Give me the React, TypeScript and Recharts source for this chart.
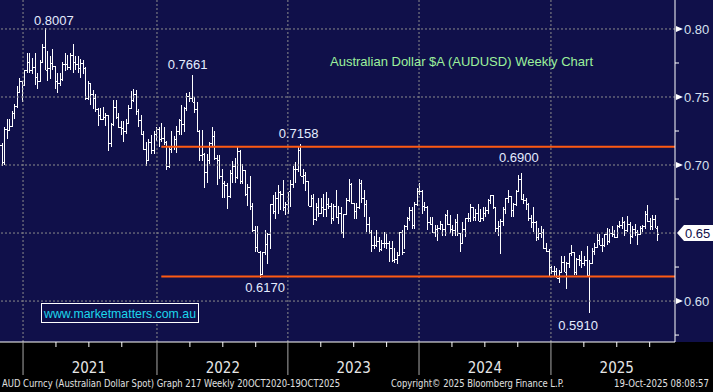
import React from "react";
import { ComposedChart, Bar, XAxis, YAxis, ReferenceLine, ReferenceDot } from "recharts";

// AUD Curncy weekly bars. week 0 = w/e 23 Oct 2020 ... week 260 = w/e 17 Oct 2025
const opens = [
  0.7080, 0.7145, 0.7025, 0.7265, 0.7255, 0.7290, 0.7385, 0.7435, 0.7540, 0.7620,
  0.7590, 0.7695, 0.7760, 0.7700, 0.7720, 0.7650, 0.7620, 0.7760, 0.7870, 0.7700,
  0.7710, 0.7750, 0.7730, 0.7620, 0.7600, 0.7630, 0.7740, 0.7740, 0.7720, 0.7810,
  0.7760, 0.7740, 0.7710, 0.7750, 0.7710, 0.7490, 0.7600, 0.7520, 0.7490, 0.7410,
  0.7370, 0.7340, 0.7350, 0.7370, 0.7160, 0.7300, 0.7430, 0.7350, 0.7280, 0.7270,
  0.7250, 0.7310, 0.7420, 0.7480, 0.7520, 0.7400, 0.7330, 0.7230, 0.7120, 0.7040,
  0.7170, 0.7110, 0.7230, 0.7265, 0.7190, 0.7200, 0.7170, 0.6990, 0.7120, 0.7140,
  0.7190, 0.7250, 0.7330, 0.7300, 0.7420, 0.7510, 0.7490, 0.7460, 0.7410, 0.7250,
  0.7070, 0.7080, 0.6950, 0.7040, 0.7160, 0.7210, 0.7050, 0.7040, 0.6920, 0.6870,
  0.6850, 0.6770, 0.6940, 0.6990, 0.6910, 0.7100, 0.6880, 0.6960, 0.6790, 0.6840,
  0.6700, 0.6520, 0.6400, 0.6360, 0.6200, 0.6360, 0.6420, 0.6490, 0.6710, 0.6660,
  0.6760, 0.6800, 0.6790, 0.6690, 0.6710, 0.6810, 0.6860, 0.6970, 0.6970, 0.7110,
  0.6920, 0.6930, 0.6880, 0.6700, 0.6760, 0.6600, 0.6690, 0.6650, 0.6690, 0.6680,
  0.6710, 0.6700, 0.6610, 0.6700, 0.6620, 0.6650, 0.6510, 0.6640, 0.6740, 0.6860,
  0.6720, 0.6660, 0.6690, 0.6870, 0.6760, 0.6710, 0.6570, 0.6510, 0.6410, 0.6410,
  0.6440, 0.6380, 0.6430, 0.6430, 0.6430, 0.6390, 0.6300, 0.6310, 0.6340, 0.6510,
  0.6360, 0.6550, 0.6610, 0.6670, 0.6560, 0.6710, 0.6810, 0.6810, 0.6700, 0.6690,
  0.6580, 0.6570, 0.6510, 0.6530, 0.6540, 0.6570, 0.6530, 0.6630, 0.6570, 0.6530,
  0.6520, 0.6580, 0.6500, 0.6430, 0.6530, 0.6610, 0.6610, 0.6690, 0.6620, 0.6650,
  0.6590, 0.6610, 0.6650, 0.6670, 0.6740, 0.6780, 0.6690, 0.6540, 0.6550, 0.6590,
  0.6680, 0.6760, 0.6770, 0.6670, 0.6710, 0.6810, 0.6900, 0.6750, 0.6740, 0.6710,
  0.6610, 0.6580, 0.6580, 0.6470, 0.6500, 0.6510, 0.6390, 0.6370, 0.6250, 0.6220,
  0.6220, 0.6170, 0.6210, 0.6290, 0.6210, 0.6280, 0.6350, 0.6360, 0.6210, 0.6310,
  0.6300, 0.6280, 0.6300, 0.6190, 0.6280, 0.6370, 0.6400, 0.6450, 0.6410, 0.6410,
  0.6490, 0.6440, 0.6500, 0.6490, 0.6470, 0.6550, 0.6560, 0.6580, 0.6520, 0.6570,
  0.6480, 0.6530, 0.6510, 0.6490, 0.6540, 0.6550, 0.6640, 0.6590, 0.6550, 0.6600,
  0.6540,
];

const highs = [
  0.7160, 0.7160, 0.7280, 0.7340, 0.7340, 0.7400, 0.7450, 0.7580, 0.7640, 0.7620,
  0.7700, 0.7820, 0.7820, 0.7790, 0.7820, 0.7680, 0.7770, 0.7890, 0.8007, 0.7840,
  0.7800, 0.7850, 0.7730, 0.7680, 0.7680, 0.7760, 0.7820, 0.7810, 0.7820, 0.7891,
  0.7800, 0.7800, 0.7780, 0.7770, 0.7720, 0.7620, 0.7600, 0.7550, 0.7520, 0.7420,
  0.7420, 0.7430, 0.7380, 0.7360, 0.7310, 0.7478, 0.7480, 0.7380, 0.7320, 0.7320,
  0.7340, 0.7440, 0.7546, 0.7556, 0.7550, 0.7410, 0.7370, 0.7250, 0.7170, 0.7190,
  0.7220, 0.7250, 0.7280, 0.7280, 0.7310, 0.7280, 0.7180, 0.7140, 0.7250, 0.7210,
  0.7290, 0.7340, 0.7440, 0.7430, 0.7530, 0.7540, 0.7661, 0.7500, 0.7460, 0.7260,
  0.7260, 0.7090, 0.7080, 0.7170, 0.7283, 0.7250, 0.7070, 0.7070, 0.6970, 0.6880,
  0.6870, 0.6960, 0.7030, 0.7050, 0.7136, 0.7110, 0.7010, 0.6960, 0.6860, 0.6920,
  0.6720, 0.6550, 0.6550, 0.6370, 0.6360, 0.6520, 0.6500, 0.6710, 0.6780, 0.6800,
  0.6850, 0.6810, 0.6890, 0.6730, 0.6800, 0.6890, 0.6990, 0.7020, 0.7140, 0.7158,
  0.6970, 0.6950, 0.6880, 0.6780, 0.6790, 0.6720, 0.6760, 0.6760, 0.6790, 0.6800,
  0.6760, 0.6720, 0.6710, 0.6818, 0.6700, 0.6690, 0.6640, 0.6760, 0.6900, 0.6870,
  0.6720, 0.6720, 0.6895, 0.6890, 0.6820, 0.6740, 0.6620, 0.6520, 0.6480, 0.6520,
  0.6470, 0.6450, 0.6510, 0.6490, 0.6440, 0.6440, 0.6390, 0.6360, 0.6510, 0.6520,
  0.6560, 0.6620, 0.6690, 0.6690, 0.6730, 0.6830, 0.6871, 0.6820, 0.6730, 0.6700,
  0.6620, 0.6620, 0.6560, 0.6560, 0.6590, 0.6570, 0.6640, 0.6670, 0.6630, 0.6560,
  0.6600, 0.6640, 0.6500, 0.6580, 0.6610, 0.6650, 0.6714, 0.6690, 0.6680, 0.6710,
  0.6680, 0.6690, 0.6690, 0.6750, 0.6780, 0.6770, 0.6690, 0.6590, 0.6600, 0.6690,
  0.6760, 0.6820, 0.6770, 0.6720, 0.6820, 0.6930, 0.6942, 0.6790, 0.6760, 0.6720,
  0.6630, 0.6690, 0.6590, 0.6540, 0.6550, 0.6530, 0.6430, 0.6380, 0.6260, 0.6260,
  0.6240, 0.6230, 0.6330, 0.6330, 0.6290, 0.6350, 0.6410, 0.6360, 0.6320, 0.6340,
  0.6370, 0.6330, 0.6408, 0.6300, 0.6390, 0.6430, 0.6490, 0.6490, 0.6460, 0.6490,
  0.6540, 0.6530, 0.6550, 0.6520, 0.6560, 0.6590, 0.6620, 0.6590, 0.6625, 0.6580,
  0.6550, 0.6570, 0.6520, 0.6550, 0.6560, 0.6660, 0.6707, 0.6610, 0.6630, 0.6630,
  0.6550,
];

const lows = [
  0.7060, 0.6991, 0.7000, 0.7190, 0.7250, 0.7280, 0.7340, 0.7420, 0.7530, 0.7460,
  0.7580, 0.7680, 0.7680, 0.7670, 0.7590, 0.7560, 0.7620, 0.7750, 0.7700, 0.7620,
  0.7630, 0.7700, 0.7560, 0.7530, 0.7580, 0.7620, 0.7690, 0.7700, 0.7700, 0.7680,
  0.7700, 0.7680, 0.7640, 0.7670, 0.7480, 0.7480, 0.7440, 0.7410, 0.7390, 0.7290,
  0.7330, 0.7340, 0.7290, 0.7106, 0.7130, 0.7290, 0.7340, 0.7270, 0.7220, 0.7170,
  0.7230, 0.7300, 0.7410, 0.7460, 0.7370, 0.7280, 0.7220, 0.7110, 0.6993, 0.7040,
  0.7080, 0.7080, 0.7180, 0.7130, 0.7170, 0.7150, 0.6967, 0.6980, 0.7090, 0.7110,
  0.7090, 0.7220, 0.7220, 0.7240, 0.7400, 0.7460, 0.7460, 0.7380, 0.7240, 0.7030,
  0.7030, 0.6829, 0.6870, 0.7010, 0.7130, 0.7040, 0.6850, 0.6900, 0.6760, 0.6760,
  0.6680, 0.6760, 0.6870, 0.6870, 0.6900, 0.6860, 0.6860, 0.6770, 0.6700, 0.6670,
  0.6510, 0.6360, 0.6360, 0.6170, 0.6190, 0.6340, 0.6270, 0.6380, 0.6640, 0.6600,
  0.6640, 0.6670, 0.6660, 0.6630, 0.6640, 0.6690, 0.6830, 0.6870, 0.6950, 0.6920,
  0.6860, 0.6810, 0.6700, 0.6700, 0.6560, 0.6590, 0.6620, 0.6640, 0.6620, 0.6620,
  0.6680, 0.6570, 0.6590, 0.6610, 0.6570, 0.6490, 0.6460, 0.6630, 0.6730, 0.6710,
  0.6600, 0.6600, 0.6680, 0.6720, 0.6620, 0.6510, 0.6490, 0.6360, 0.6380, 0.6400,
  0.6360, 0.6370, 0.6390, 0.6380, 0.6290, 0.6290, 0.6280, 0.6270, 0.6330, 0.6340,
  0.6380, 0.6520, 0.6590, 0.6530, 0.6530, 0.6700, 0.6780, 0.6640, 0.6660, 0.6520,
  0.6560, 0.6500, 0.6470, 0.6440, 0.6520, 0.6480, 0.6480, 0.6560, 0.6500, 0.6480,
  0.6480, 0.6480, 0.6362, 0.6430, 0.6470, 0.6580, 0.6580, 0.6590, 0.6590, 0.6590,
  0.6580, 0.6590, 0.6620, 0.6640, 0.6710, 0.6680, 0.6510, 0.6480, 0.6348, 0.6550,
  0.6640, 0.6720, 0.6620, 0.6620, 0.6700, 0.6800, 0.6740, 0.6710, 0.6670, 0.6590,
  0.6540, 0.6510, 0.6440, 0.6450, 0.6460, 0.6380, 0.6360, 0.6180, 0.6200, 0.6180,
  0.6170, 0.6131, 0.6210, 0.6210, 0.6088, 0.6240, 0.6330, 0.6190, 0.6190, 0.6260,
  0.6240, 0.6260, 0.6180, 0.5914, 0.6280, 0.6340, 0.6390, 0.6410, 0.6360, 0.6400,
  0.6410, 0.6430, 0.6470, 0.6460, 0.6470, 0.6540, 0.6530, 0.6480, 0.6510, 0.6420,
  0.6460, 0.6480, 0.6410, 0.6490, 0.6510, 0.6530, 0.6580, 0.6520, 0.6520, 0.6540,
  0.6440,
];

const closes = [
  0.7145, 0.7025, 0.7265, 0.7255, 0.7290, 0.7385, 0.7435, 0.7540, 0.7620, 0.7590,
  0.7695, 0.7760, 0.7700, 0.7720, 0.7650, 0.7620, 0.7760, 0.7870, 0.7700, 0.7710,
  0.7750, 0.7730, 0.7620, 0.7600, 0.7630, 0.7740, 0.7740, 0.7720, 0.7810, 0.7760,
  0.7740, 0.7710, 0.7750, 0.7710, 0.7490, 0.7600, 0.7520, 0.7490, 0.7410, 0.7370,
  0.7340, 0.7350, 0.7370, 0.7160, 0.7300, 0.7430, 0.7350, 0.7280, 0.7270, 0.7250,
  0.7310, 0.7420, 0.7480, 0.7520, 0.7400, 0.7330, 0.7230, 0.7120, 0.7040, 0.7170,
  0.7110, 0.7230, 0.7265, 0.7190, 0.7200, 0.7170, 0.6990, 0.7120, 0.7140, 0.7190,
  0.7250, 0.7330, 0.7300, 0.7420, 0.7510, 0.7490, 0.7460, 0.7410, 0.7250, 0.7070,
  0.7080, 0.6950, 0.7040, 0.7160, 0.7210, 0.7050, 0.7040, 0.6920, 0.6870, 0.6850,
  0.6770, 0.6940, 0.6990, 0.6910, 0.7100, 0.6880, 0.6960, 0.6790, 0.6840, 0.6700,
  0.6520, 0.6400, 0.6360, 0.6200, 0.6360, 0.6420, 0.6490, 0.6710, 0.6660, 0.6760,
  0.6800, 0.6790, 0.6690, 0.6710, 0.6810, 0.6860, 0.6970, 0.6970, 0.7110, 0.6920,
  0.6930, 0.6880, 0.6700, 0.6760, 0.6600, 0.6690, 0.6650, 0.6690, 0.6680, 0.6710,
  0.6700, 0.6610, 0.6700, 0.6620, 0.6650, 0.6510, 0.6640, 0.6740, 0.6860, 0.6720,
  0.6660, 0.6690, 0.6870, 0.6760, 0.6710, 0.6570, 0.6510, 0.6410, 0.6410, 0.6440,
  0.6380, 0.6430, 0.6430, 0.6430, 0.6390, 0.6300, 0.6310, 0.6340, 0.6510, 0.6360,
  0.6550, 0.6610, 0.6670, 0.6560, 0.6710, 0.6810, 0.6810, 0.6700, 0.6690, 0.6580,
  0.6570, 0.6510, 0.6530, 0.6540, 0.6570, 0.6530, 0.6630, 0.6570, 0.6530, 0.6520,
  0.6580, 0.6500, 0.6430, 0.6530, 0.6610, 0.6610, 0.6690, 0.6620, 0.6650, 0.6590,
  0.6610, 0.6650, 0.6670, 0.6740, 0.6780, 0.6690, 0.6540, 0.6550, 0.6590, 0.6680,
  0.6760, 0.6770, 0.6670, 0.6710, 0.6810, 0.6900, 0.6750, 0.6740, 0.6710, 0.6610,
  0.6580, 0.6580, 0.6470, 0.6500, 0.6510, 0.6390, 0.6370, 0.6250, 0.6220, 0.6220,
  0.6170, 0.6210, 0.6290, 0.6210, 0.6280, 0.6350, 0.6360, 0.6210, 0.6310, 0.6300,
  0.6280, 0.6300, 0.6190, 0.6280, 0.6370, 0.6400, 0.6450, 0.6410, 0.6410, 0.6490,
  0.6440, 0.6500, 0.6490, 0.6470, 0.6550, 0.6560, 0.6580, 0.6520, 0.6570, 0.6480,
  0.6530, 0.6510, 0.6490, 0.6540, 0.6550, 0.6640, 0.6590, 0.6550, 0.6600, 0.6540,
  0.6490,
];

// time axis, in week numbers
const yearStarts = [9.4, 62.3, 114.0, 165.8, 217.9];
const yearLabels = ["2021", "2022", "2023", "2024", "2025"];
const yearLabelTicks = [35.4, 88.3, 140.0, 191.8, 243.9];
const quarterTicks = [
  22.4, 35.4, 48.4, 75.3, 88.3, 101.3, 127.0, 140.0, 153.0,
  178.8, 191.8, 204.8, 230.9, 243.9, 256.9,
];

const priceMajor = [0.6, 0.65, 0.7, 0.75, 0.8];
const priceMinor = [0.575, 0.625, 0.675, 0.725, 0.775];
const lastPrice = 0.65;

const resistance = 0.7135;
const support = 0.618;
const levelFromWeek = 64;

// annotated turning points
const markWeeks = [18, 76, 119, 103, 206, 233];
const markValues = [0.8007, 0.7661, 0.7158, 0.617, 0.69, 0.591];

const X_DOMAIN: [number, number] = [0.3, 266.9];
const Y_DOMAIN: [number, number] = [0.5699, 0.8213];

const NAVY = "#10104a";
const FONT = "'Liberation Sans', Arial, sans-serif";
const NARROW = "'Liberation Sans Narrow', 'DejaVu Sans Condensed', sans-serif";

const data = closes.map((close, i) => ({
  week: i,
  open: opens[i],
  high: highs[i],
  low: lows[i],
  close,
  range: [lows[i], highs[i]],
}));

const same = (a: number, b: number) => Math.abs(a - b) < 1e-6;

const OhlcBar = (props: any) => {
  const { x, y, width, height, payload } = props;
  if (!payload || height == null) return <g />;
  const cx = Math.round(x + width / 2) + 0.5;
  const span = payload.high - payload.low || 1e-6;
  const toY = (v: number) => y + ((payload.high - v) / span) * height;
  const oy = Math.round(toY(payload.open)) + 0.5;
  const cy = Math.round(toY(payload.close)) + 0.5;
  return (
    <g stroke="#ffffff" strokeWidth={1} shapeRendering="crispEdges">
      <line x1={cx} x2={cx} y1={y} y2={y + height} />
      <line x1={cx - 1.5} x2={cx} y1={oy} y2={oy} />
      <line x1={cx} x2={cx + 1.5} y1={cy} y2={cy} />
    </g>
  );
};

const PriceTick = (props: any) => {
  const { x, y, payload } = props;
  const v = payload.value;
  if (priceMinor.some((m) => same(m, v))) {
    return <line x1={x} x2={x + 4} y1={y} y2={y} stroke="#ffffff" />;
  }
  if (same(v, lastPrice)) {
    return (
      <g>
        <path d={`M${x + 2},${y} L${x + 9},${y - 8} H${x + 40} V${y + 8} H${x + 9} Z`} fill="#ffffff" />
        <text x={x + 10} y={y + 5} fill={NAVY} fontSize={13} fontFamily={FONT}>
          {v.toFixed(2)}
        </text>
      </g>
    );
  }
  return (
    <g>
      <path d={`M${x + 1},${y - 3} L${x + 8},${y} L${x + 1},${y + 3} Z`} fill="#ffffff" />
      <text x={x + 9} y={y + 5} fill="#d8e0f0" fontSize={13} fontFamily={FONT}>
        {v.toFixed(2)}
      </text>
    </g>
  );
};

const TimeTick = (props: any) => {
  const { x, y, payload } = props;
  const v = payload.value;
  if (yearStarts.some((s) => same(s, v))) {
    return <line x1={x} x2={x} y1={y} y2={y + 33} stroke="#a8a8a8" />;
  }
  const li = yearLabelTicks.findIndex((t) => same(t, v));
  return (
    <g>
      <line x1={x} x2={x} y1={y} y2={y + 5} stroke="#ffffff" />
      {li >= 0 && (
        <text x={x} y={y + 31} fill="#e6e6e6" fontSize={15} fontFamily={NARROW} textAnchor="middle">
          {yearLabels[li]}
        </text>
      )}
    </g>
  );
};

const mark = (dx: number, dy: number, text: string) => (p: any) => (
  <text
    x={p.cx + dx}
    y={p.cy + dy}
    fill="#e4ecff"
    fontSize={13}
    fontFamily={FONT}
    textAnchor="middle"
    dominantBaseline="central"
  >
    {text}
  </text>
);

export default function App() {
  const timeTicks = [...yearStarts, ...quarterTicks].sort((a, b) => a - b);
  const priceTicks = [...priceMinor, ...priceMajor].sort((a, b) => a - b);
  const offsets = [
    [9, -8],
    [-4, -11],
    [-2, -10],
    [5, 10],
    [-2, -21],
    [-11, 12],
  ];
  return (
    <div
      style={{
        position: "absolute",
        left: 0,
        top: 0,
        width: 713,
        height: 392,
        background: "#000000",
        overflow: "hidden",
      }}
    >
      <div style={{ position: "absolute", left: 0, top: 0, width: 713, height: 342, background: NAVY }} />
      <div style={{ position: "absolute", left: 0, top: 0 }}>
        <ComposedChart width={713} height={392} data={data} margin={{ top: 0, right: 0, bottom: 0, left: 0 }}>
          <XAxis
            dataKey="week"
            type="number"
            domain={X_DOMAIN}
            allowDataOverflow
            ticks={timeTicks}
            interval={0}
            height={50}
            tickSize={0}
            tickMargin={0}
            tickLine={false}
            axisLine={{ stroke: "#ffffff" }}
            tick={(p: any) => <TimeTick {...p} />}
          />
          <YAxis
            orientation="right"
            type="number"
            domain={Y_DOMAIN}
            allowDataOverflow
            ticks={priceTicks}
            interval={0}
            width={38}
            tickSize={0}
            tickMargin={0}
            tickLine={false}
            axisLine={{ stroke: "#ffffff" }}
            tick={(p: any) => <PriceTick {...p} />}
          />
          {priceMajor.map((v) => (
            <ReferenceLine key={`h${v}`} y={v} stroke="#8c8c8c" strokeDasharray="2 2" />
          ))}
          {yearStarts.map((v) => (
            <ReferenceLine key={`v${v}`} x={v} stroke="#8c8c8c" strokeDasharray="2 2" />
          ))}
          <Bar dataKey="range" barSize={3} isAnimationActive={false} shape={(p: any) => <OhlcBar {...p} />} />
          <ReferenceLine
            segment={[
              { x: levelFromWeek, y: resistance },
              { x: X_DOMAIN[1], y: resistance },
            ]}
            stroke="#ff5a12"
            strokeWidth={2}
          />
          <ReferenceLine
            segment={[
              { x: levelFromWeek, y: support },
              { x: X_DOMAIN[1], y: support },
            ]}
            stroke="#ff5a12"
            strokeWidth={2}
          />
          {markWeeks.map((w, k) => (
            <ReferenceDot
              key={`m${k}`}
              x={w}
              y={markValues[k]}
              r={0}
              shape={mark(offsets[k][0], offsets[k][1], markValues[k].toFixed(4))}
            />
          ))}
        </ComposedChart>
      </div>
      <svg
        width={713}
        height={392}
        style={{ position: "absolute", left: 0, top: 0, pointerEvents: "none" }}
      >
        <text x={330} y={66} fill="#9cf09c" fontSize={13} fontFamily={FONT} textLength={263} lengthAdjust="spacingAndGlyphs">
          Australian Dollar $A (AUDUSD) Weekly Chart
        </text>
        <rect x={41.5} y={303.5} width={157} height={19} fill={NAVY} stroke="#ffffff" strokeWidth={1} />
        <text x={44} y={318} fill="#1cd6ec" fontSize={13} fontFamily={FONT} textLength={152} lengthAdjust="spacingAndGlyphs">
          www.marketmatters.com.au
        </text>
        <g fill="#e0e0e0" fontSize={11} fontFamily={NARROW}>
          <text x={2} y={387} textLength={338} lengthAdjust="spacingAndGlyphs">
            AUD Curncy (Australian Dollar Spot) Graph 217 Weekly 20OCT2020-19OCT2025
          </text>
          <text x={391} y={387} textLength={173} lengthAdjust="spacingAndGlyphs">
            Copyright© 2025 Bloomberg Finance L.P.
          </text>
          <text x={709} y={387} fontSize={10} textAnchor="end" textLength={95} lengthAdjust="spacingAndGlyphs">
            19-Oct-2025 08:08:57
          </text>
        </g>
      </svg>
    </div>
  );
}
